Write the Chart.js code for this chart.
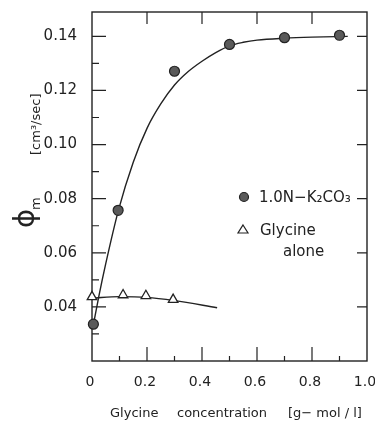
<!DOCTYPE html>
<html>
<head>
<meta charset="utf-8">
<script src="https://cdn.jsdelivr.net/npm/chart.js@4"></script>
<style>
  body { margin: 0; background: #fff; }
  #wrap { width: 375px; height: 423px; position: relative; }
</style>
</head>
<body>
<div id="wrap"><canvas id="Chart1"></canvas></div>
<script>
// measured points, 1.0N K2CO3
const kX = [0.005, 0.095, 0.3, 0.5, 0.7, 0.9];
const kY = [0.0336, 0.0757, 0.1271, 0.1370, 0.1395, 0.1404];
// smooth fitted curve through them
const kCurveX = [0.005, 0.025, 0.05, 0.096, 0.15, 0.2, 0.25, 0.3, 0.35, 0.4, 0.45, 0.5, 0.55, 0.6, 0.7, 0.8, 0.93];
const kCurveY = [0.0334, 0.0440, 0.0560, 0.0757, 0.0935, 0.1060, 0.1150, 0.1220, 0.1270, 0.1308, 0.1340, 0.1365, 0.1378, 0.1386, 0.1393, 0.1397, 0.1400];
// glycine alone
const gX = [0, 0.113, 0.196, 0.295];
const gY = [0.0437, 0.0444, 0.0441, 0.0427];
const gLineX = [0, 0.1, 0.2, 0.3, 0.455];
const gLineY = [0.0432, 0.0438, 0.0435, 0.0423, 0.0397];

// axes
const xLabels = [0, 0.2, 0.4, 0.6, 0.8, 1.0];
const xMinor = [0.1, 0.3, 0.5, 0.7, 0.9];
const yLabels = [0.04, 0.06, 0.08, 0.10, 0.12, 0.14];
const yMinor = [0.03, 0.05, 0.07, 0.09, 0.11, 0.13];

const xTitle = ['Glycine', 'concentration', '[g\u2212 mol / l]'];
const yTitle = ['\u03D5', 'm', '[cm\u00B3/sec]'];
const legendK = '1.0N\u2212K\u2082CO\u2083';
const legendG = ['Glycine', 'alone'];

const pts = (xs, ys) => xs.map((v, i) => ({x: v, y: ys[i]}));
const ink = '#222';
const font = 'DejaVu Sans';

// frame + inward ticks
const frame = {
  id: 'frame',
  beforeDatasetsDraw(chart) {
    const {ctx, chartArea: a, scales: {x, y}} = chart;
    ctx.save();
    ctx.strokeStyle = ink;
    ctx.lineWidth = 1.4;
    ctx.strokeRect(a.left, a.top, a.right - a.left, a.bottom - a.top);
    ctx.lineWidth = 1.2;
    ctx.beginPath();
    yLabels.forEach(v => {
      const p = y.getPixelForValue(v);
      ctx.moveTo(a.left, p); ctx.lineTo(a.left + 14, p);
      ctx.moveTo(a.right, p); ctx.lineTo(a.right - 10, p);
    });
    yMinor.forEach(v => {
      const p = y.getPixelForValue(v);
      ctx.moveTo(a.left, p); ctx.lineTo(a.left + 7, p);
    });
    xLabels.slice(1, -1).forEach(v => {
      const p = x.getPixelForValue(v);
      ctx.moveTo(p, a.bottom); ctx.lineTo(p, a.bottom - 14);
      ctx.moveTo(p, a.top); ctx.lineTo(p, a.top + 12);
    });
    xMinor.forEach(v => {
      const p = x.getPixelForValue(v);
      ctx.moveTo(p, a.bottom); ctx.lineTo(p, a.bottom - 5);
    });
    ctx.stroke();
    ctx.restore();
  },
  afterDraw(chart) {
    const {ctx} = chart;
    ctx.save();
    ctx.fillStyle = ink;
    ctx.textBaseline = 'alphabetic';
    ctx.textAlign = 'left';

    // x title
    ctx.font = '13px ' + font;
    ctx.fillText(xTitle[0], 110, 417);
    ctx.fillText(xTitle[1], 177, 417);
    ctx.fillText(xTitle[2], 288, 417);

    // y title, rotated
    ctx.save();
    ctx.translate(0, 236);
    ctx.rotate(-Math.PI / 2);
    ctx.font = '29px ' + font;
    ctx.fillText(yTitle[0], 8, 34);
    ctx.font = '13px ' + font;
    ctx.fillText(yTitle[1], 26, 40);
    ctx.fillText(yTitle[2], 81, 40);
    ctx.restore();

    // legend
    ctx.textBaseline = 'middle';
    ctx.font = '15px ' + font;
    ctx.beginPath();
    ctx.arc(244, 197, 4.5, 0, Math.PI * 2);
    ctx.fillStyle = '#5a5a5a';
    ctx.fill();
    ctx.strokeStyle = ink;
    ctx.lineWidth = 1.2;
    ctx.stroke();
    ctx.beginPath();
    ctx.moveTo(243, 225); ctx.lineTo(248, 233); ctx.lineTo(238, 233); ctx.closePath();
    ctx.fillStyle = '#fff';
    ctx.fill();
    ctx.stroke();
    ctx.fillStyle = ink;
    ctx.fillText(legendK, 259, 198);
    ctx.fillText(legendG[0], 260, 231);
    ctx.fillText(legendG[1], 283, 252);
    ctx.restore();
  }
};

new Chart(document.getElementById('Chart1'), {
  type: 'scatter',
  data: {
    datasets: [
      {
        data: pts(kX, kY),
        pointStyle: 'circle',
        pointRadius: 5,
        pointBackgroundColor: '#5a5a5a',
        pointBorderColor: ink,
        pointBorderWidth: 1.2,
        showLine: false,
        clip: false,
        order: 0
      },
      {
        data: pts(gX, gY),
        pointStyle: 'triangle',
        pointRadius: 5.5,
        pointBackgroundColor: '#fff',
        pointBorderColor: ink,
        pointBorderWidth: 1.3,
        showLine: false,
        clip: false,
        order: 0
      },
      {
        data: pts(kCurveX, kCurveY),
        showLine: true,
        pointRadius: 0,
        borderColor: ink,
        borderWidth: 1.4,
        cubicInterpolationMode: 'monotone',
        order: 1
      },
      {
        data: pts(gLineX, gLineY),
        showLine: true,
        pointRadius: 0,
        borderColor: ink,
        borderWidth: 1.4,
        cubicInterpolationMode: 'monotone',
        order: 1
      }
    ]
  },
  options: {
    responsive: true,
    maintainAspectRatio: false,
    animation: false,
    events: [],
    layout: { padding: { left: 0, right: 8, top: 12, bottom: 0 } },
    plugins: { legend: { display: false }, tooltip: { enabled: false } },
    scales: {
      x: {
        type: 'linear',
        min: 0,
        max: 1.0,
        grid: { display: false, drawTicks: false },
        border: { display: false },
        afterBuildTicks: s => { s.ticks = xLabels.map(v => ({value: v})); },
        afterFit: s => { s.height = 62; s.paddingLeft = 0; s.paddingRight = 0; },
        ticks: {
          padding: 13,
          labelOffset: -2,
          color: ink,
          font: { family: font, size: 14 },
          maxRotation: 0,
          callback: v => v === 0 ? '0' : v.toFixed(1)
        }
      },
      y: {
        type: 'linear',
        min: 0.02,
        max: 0.149,
        grid: { display: false, drawTicks: false },
        border: { display: false },
        afterBuildTicks: s => { s.ticks = yLabels.map(v => ({value: v})); },
        afterFit: s => { s.width = 92; s.paddingTop = 0; s.paddingBottom = 0; },
        ticks: {
          padding: 15,
          color: ink,
          font: { family: font, size: 15 },
          callback: v => v.toFixed(2)
        }
      }
    }
  },
  plugins: [frame]
});
</script>
</body>
</html>
